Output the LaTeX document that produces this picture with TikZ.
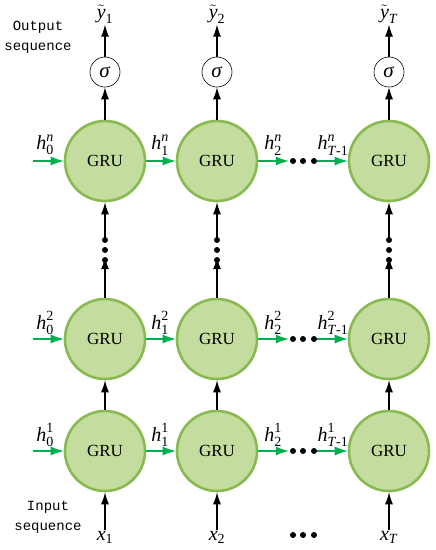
\documentclass[tikz,border=0pt]{standalone}
\usepackage{amsmath}
\usepackage{fontspec}
\setmainfont{Liberation Serif}
\setmonofont{Liberation Mono}
\usepackage{tikz}
\usetikzlibrary{arrows.meta, positioning, calc}
\definecolor{gruFill}{RGB}{196,221,158}
\definecolor{gruEdge}{RGB}{137,186,82}
\definecolor{flowGreen}{RGB}{0,176,80}
\newcommand{\hstate}[2]{$\textit{h}^{\textrm{#2}}_{\textrm{#1}}$}

\tikzset{
  gru/.style={circle, draw=gruEdge, line width=2.6pt, fill=gruFill, minimum size=80pt, inner sep=0pt, font=\fontsize{17}{20}\selectfont},
  sig/.style={circle, draw=black, line width=0.6pt, fill=white, minimum size=30pt, inner sep=0pt, font=\fontsize{21}{22}\selectfont},
  lbl/.style={inner sep=1pt, font=\fontsize{20}{22}\selectfont},
  seqtext/.style={align=center, font=\ttfamily\fontsize{14}{20}\selectfont},
  dotnode/.style={circle, fill=black, inner sep=0pt, minimum size=6pt},
  uparrow/.style={-{Latex[length=12pt,width=8pt]}, line width=1.1pt, black},
  flow/.style={-{Latex[length=13pt,width=9pt]}, line width=1.1pt, flowGreen}
}

\begin{document}
\begin{tikzpicture}[x=1pt, y=-1pt]
    \useasboundingbox (0,0) rectangle (436,550);
    % GRU cells: columns 1, 2, T and layers 1, 2, n
    \foreach \c/\x/\t in {1/105/1, 2/217/2, T/389/\textit{T}} {
      \node[gru] (g\c-1) at (\x,451) {GRU};
      \node[gru] (g\c-2) at (\x,339) {GRU};
      \node[gru] (g\c-n) at (\x,161) {GRU};
      % sigma and outputs
      \node[sig] (s\c) at (\x,72) {\textit{σ}};
      \node[lbl] (y\c) at (\x,14) {$\tilde{\textit{y}}_{\textrm{\t}}$};
      \node[lbl] (x\c) at (\x,537) {$\textit{x}_{\textrm{\t}}$};
      % vertical dots between layer 2 and layer n
      \node[dotnode] (va\c) at (\x,240) {};
      \node[dotnode] (vb\c) at (\x,250) {};
      \node[dotnode] (vc\c) at (\x,260) {};
      % vertical arrows
      \draw[uparrow] (x\c) -- (g\c-1);
      \draw[uparrow] (g\c-1) -- (g\c-2);
      \draw[uparrow] (g\c-2) -- ([yshift=6pt]vc\c.south);
      \draw[uparrow] ([yshift=-5pt]va\c.north) -- (g\c-n);
      \draw[uparrow] (g\c-n) -- (s\c);
      \draw[uparrow] (s\c) -- (y\c);
    }
    % sequence captions
    \node[seqtext] (outtxt) at (38,37) {Output\\sequence};
    \node[seqtext] (intxt) at (48,517) {Input\\sequence};
    % bottom dots between x2 and xT
    \node[dotnode] (bd1) at (293,535) {};
    \node[dotnode] (bd2) at (303,535) {};
    \node[dotnode] (bd3) at (314,535) {};
    % horizontal hidden-state flow per layer
    \foreach \r/\y/\s in {1/451/1, 2/339/2, n/161/\textit{n}} {
      \coordinate (in\r) at (33,\y);
      \node[dotnode] (ha\r) at (293,\y) {};
      \node[dotnode] (hb\r) at (303,\y) {};
      \node[dotnode] (hc\r) at (314,\y) {};
      \draw[flow] (in\r) -- (g1-\r);
      \draw[flow] (g1-\r) -- (g2-\r);
      \draw[flow] (g2-\r) -- ([xshift=-1pt]ha\r.west);
      \draw[flow] (hc\r) -- (gT-\r);
      \node[lbl] (h0\r) at (45,\y-16) {\hstate{0}{\s}};
      \node[lbl] (h1\r) at (160,\y-16) {\hstate{1}{\s}};
      \node[lbl] (h2\r) at (273,\y-16) {\hstate{2}{\s}};
      \node[lbl] (hT\r) at (333,\y-16) {\hstate{\textit{T}-1}{\s}};
    }
\end{tikzpicture}
\end{document}
